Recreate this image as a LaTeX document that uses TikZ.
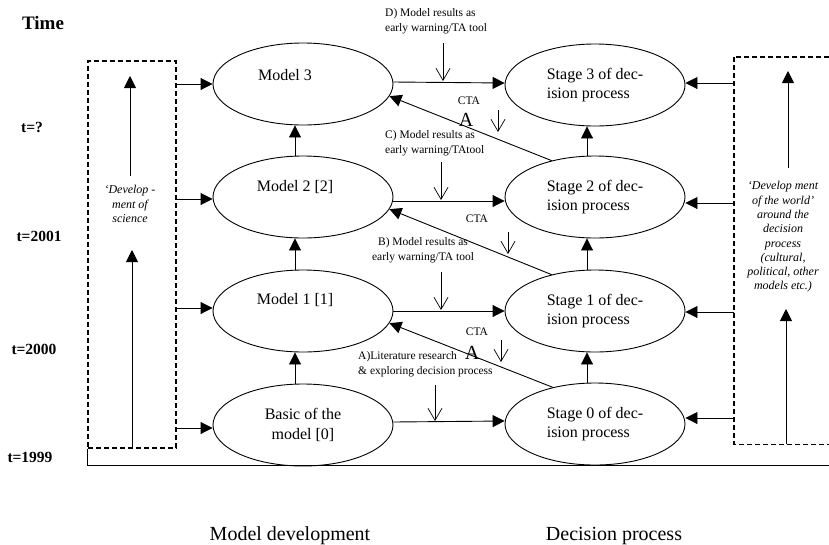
\documentclass[tikz,border=0pt]{standalone}
\usepackage{fontspec}
\setmainfont{Liberation Serif}
\usetikzlibrary{shapes.geometric,arrows.meta,calc}
\begin{document}
\begin{tikzpicture}[x=1pt,y=-1pt,
  ell/.style={draw,shape=ellipse,minimum width=180pt,minimum height=82pt,inner sep=0pt,line width=0.9pt,font=\fontsize{16}{19.5}\selectfont},
  mlab/.style={font=\fontsize{16}{19.5}\selectfont},
  arr/.style={line width=0.9pt,-{Triangle[length=12pt,width=12pt]}},
  thin/.style={line width=0.7pt,-{Straight Barb[length=12pt,width=14pt,line width=0.7pt]}},
  dbox/.style={dash pattern=on 5pt off 3pt,line width=1.4pt},
  small/.style={font=\fontsize{11.5}{15}\selectfont,inner sep=0pt},
  ital/.style={font=\fontsize{12}{14.3}\selectfont\itshape,align=center,inner sep=0pt},
  tlab/.style={font=\fontsize{15.5}{18}\selectfont\bfseries,inner sep=0pt},
  bigA/.style={font=\fontsize{20}{22}\selectfont,inner sep=0pt}
]
\useasboundingbox (0,0) rectangle (829,544);

% time labels
\node[font=\fontsize{19}{22}\selectfont\bfseries,inner sep=0pt] (time) at (43,23) {Time};
\node[tlab] (tq) at (32,127) {t=?};
\node[tlab] (t01) at (39,236) {t=2001};
\node[tlab] (t00) at (34,349) {t=2000};
\node[tlab] (t99) at (30,457) {t=1999};

% model column
\node[ell,label={[mlab,xshift=-18pt,yshift=9pt]center:Model 3}] (m3) at (303,84) {};
\node[ell,label={[mlab,xshift=-8pt,yshift=10pt]center:Model 2 [2]}] (m2) at (303,197) {};
\node[ell,label={[mlab,xshift=-8pt,yshift=11pt]center:Model 1 [1]}] (m1) at (303,311) {};
\node[ell,align=center] (m0) at (303,425) {Basic of the\\model [0]};

% stage column
\node[ell,align=left] (s3) at (595,85) {Stage 3 of dec-\\ision process};
\node[ell,align=left] (s2) at (595,197) {Stage 2 of dec-\\ision process};
\node[ell,align=left] (s1) at (595,311) {Stage 1 of dec-\\ision process};
\node[ell,align=left] (s0) at (595,424) {Stage 0 of dec-\\ision process};

% vertical arrows
\draw[arr] ([xshift=-8pt]m0.north) -- ([xshift=-8pt]m1.south);
\draw[arr] ([xshift=-8pt]m1.north) -- ([xshift=-8pt]m2.south);
\draw[arr] ([xshift=-8pt]m2.north) -- ([xshift=-8pt]m3.south);
\draw[arr] ([xshift=-8pt]s0.north) -- ([xshift=-8pt]s1.south);
\draw[arr] ([xshift=-8pt]s1.north) -- ([xshift=-8pt]s2.south);
\draw[arr] ([xshift=-8pt]s2.north) -- ([xshift=-8pt]s3.south);

% horizontal arrows
\draw[arr] ([yshift=2pt]m3.east) -- ([yshift=2pt]s3.west);
\draw[arr] ([yshift=-4pt]m2.east) -- ([yshift=-4pt]s2.west);
\draw[arr] (m1.east) -- (s1.west);
\draw[arr] ([yshift=3pt]m0.east) -- ([yshift=3pt]s0.west);

% diagonal feedback arrows
\draw[arr] (s2.140) -- (m3.-8);
\draw[arr] (s1.140) -- (m2.-8);
\draw[arr] (s0.139) -- (m1.-8);

% labels
\node[small,align=left,anchor=west] (lD) at (385,21) {D) Model results as\\early warning/TA tool};
\node[small,align=left,anchor=west] (lC) at (385,143) {C) Model results as\\early warning/TAtool};
\node[small,align=center] (lB) at (423,250) {B) Model results as\\early warning/TA tool};
\node[small,align=left,anchor=west] (lA) at (358,364) {A)Literature research\\\& exploring decision process};
\node[small] (cta3) at (469,101) {CTA};
\node[small] (cta2) at (477,219) {CTA};
\node[small] (cta1) at (477,332) {CTA};
\node[bigA] (A3) at (466,120) {A};
\node[bigA] (A1) at (472,353) {A};

% small open arrows
\coordinate (dD1) at (443,43);  \coordinate (dD2) at (443,81);
\coordinate (dC1) at (441,162); \coordinate (dC2) at (441,200);
\coordinate (dB1) at (441,272); \coordinate (dB2) at (441,310);
\coordinate (dA1) at (435,385); \coordinate (dA2) at (435,421);
\coordinate (c31) at (498,110); \coordinate (c32) at (498,132);
\coordinate (c21) at (508,232); \coordinate (c22) at (508,254);
\coordinate (c11) at (501,340); \coordinate (c12) at (501,362);
\draw[thin] (dD1) -- (dD2);
\draw[thin] (dC1) -- (dC2);
\draw[thin] (dB1) -- (dB2);
\draw[thin] (dA1) -- (dA2);
\draw[thin] (c31) -- (c32);
\draw[thin] (c21) -- (c22);
\draw[thin] (c11) -- (c12);

% left dashed box
\node[draw,dbox,minimum width=88pt,minimum height=387pt,inner sep=0pt] (sci) at (132,254.5) {};
\node[ital] (scitxt) at (130,204) {‘Develop -\\ment of\\science};
\coordinate (sa1) at (130,176); \coordinate (sa2) at (130,76);
\coordinate (sb2) at (132,250);
\draw[arr] (sa1) -- (sa2);
\draw[arr] (sci.south -| sb2) -- (sb2);
\draw[arr] (sci.east |- m3.west) -- (m3.west);
\draw[arr] ([yshift=-2pt]sci.east |- m2.west) -- ([yshift=-2pt]m2.west);
\draw[arr] ([yshift=3pt]sci.east |- m1.west) -- ([yshift=3pt]m1.west);
\draw[arr] ([yshift=-3pt]sci.east |- m0.west) -- ([yshift=-3pt]m0.west);

% right dashed box (right side outside picture)
\node[minimum width=95pt,minimum height=387pt,inner sep=0pt] (world) at (781.5,250.5) {};
\draw[dbox] (world.north east) -- (world.north west) -- (world.south west) -- (world.south east);
\node[ital] (wtxt) at (783,237) {‘Develop ment\\of the world’\\around the\\decision\\process\\(cultural,\\political, other\\models etc.)};
\coordinate (wa1) at (788,168); \coordinate (wa2) at (788,71);
\coordinate (wb2) at (786,309);
\draw[arr] (wa1) -- (wa2);
\draw[arr] (world.south -| wb2) -- (wb2);
\draw[arr] ([yshift=2pt]world.west |- s3.east) -- ([yshift=2pt]s3.east);
\draw[arr] ([yshift=-6pt]world.west |- s2.east) -- ([yshift=-6pt]s2.east);
\draw[arr] ([yshift=-1pt]world.west |- s1.east) -- ([yshift=-1pt]s1.east);
\draw[arr] ([yshift=6pt]world.west |- s0.east) -- ([yshift=6pt]s0.east);

% bottom base line
\coordinate (bend) at (829,465.5);
\draw[line width=1pt] (sci.south west) -- (sci.south west |- bend) -- (bend);

% column titles
\node[font=\fontsize{20}{22}\selectfont,anchor=base] (mdev) at (290,540) {Model development};
\node[font=\fontsize{20}{22}\selectfont,anchor=base] (dproc) at (614,540) {Decision process};
\end{tikzpicture}
\end{document}
